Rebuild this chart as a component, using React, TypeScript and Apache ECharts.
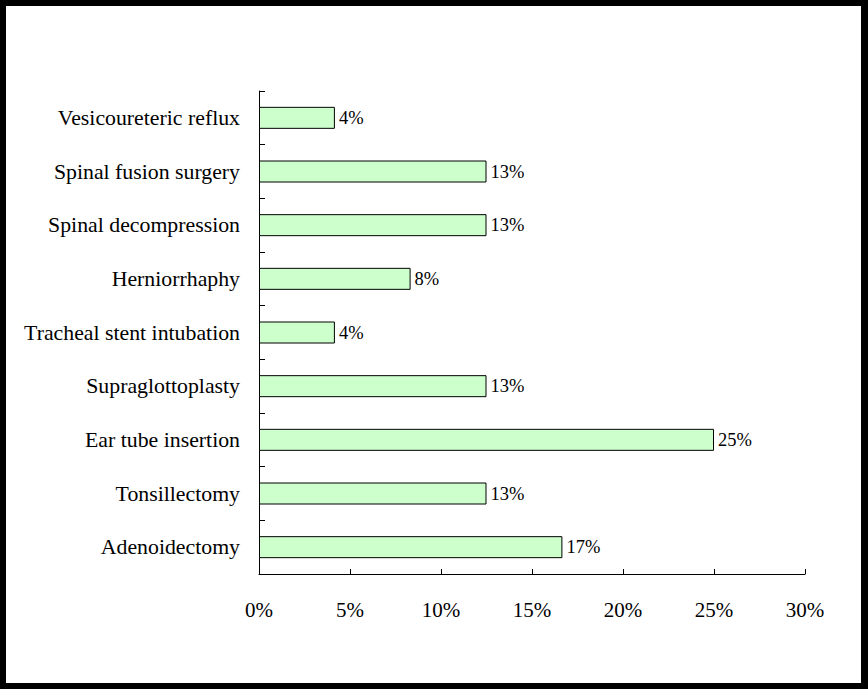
import React, { useEffect, useRef } from "react";
import * as echarts from "echarts";

const categories = [
  "Vesicoureteric reflux",
  "Spinal fusion surgery",
  "Spinal decompression",
  "Herniorrhaphy",
  "Tracheal stent intubation",
  "Supraglottoplasty",
  "Ear tube insertion",
  "Tonsillectomy",
  "Adenoidectomy",
];
const percentages = [4.17, 12.5, 12.5, 8.33, 4.17, 12.5, 25, 12.5, 16.67];
const xTicks = { min: 0, max: 30, interval: 5 };

export default function App() {
  const ref = useRef<HTMLDivElement>(null);
  useEffect(() => {
    if (!ref.current) return;
    const chart = echarts.init(ref.current, null, { renderer: "svg" });
    const font = "Liberation Serif";
    chart.setOption({
      animation: false,
      backgroundColor: "#ffffff",
      grid: { left: 259, right: 63, top: 91, bottom: 115, containLabel: false },
      xAxis: {
        type: "value",
        min: xTicks.min,
        max: xTicks.max,
        interval: xTicks.interval,
        axisLine: { show: true, lineStyle: { color: "#000", width: 1 } },
        axisTick: { show: true, inside: true, length: 5, lineStyle: { color: "#000" } },
        splitLine: { show: false },
        axisLabel: {
          formatter: "{value}%",
          color: "#000",
          fontFamily: font,
          fontSize: 21,
          margin: 25,
        },
      },
      yAxis: {
        type: "category",
        data: categories,
        inverse: true,
        axisLine: { show: true, lineStyle: { color: "#000", width: 1 } },
        axisTick: { show: true, inside: true, length: 6, alignWithLabel: false, lineStyle: { color: "#000" } },
        axisLabel: {
          color: "#000",
          fontFamily: font,
          fontSize: 21.8,
          margin: 19,
        },
      },
      series: [
        {
          type: "bar",
          data: percentages,
          barWidth: 22,
          itemStyle: { color: "#ccffcc", borderColor: "#000", borderWidth: 1 },
          label: {
            show: true,
            position: "right",
            distance: 4,
            color: "#000",
            fontFamily: font,
            fontSize: 18.5,
            formatter: (p: any) => Math.round(p.value) + "%",
          },
        },
      ],
      graphic: [
        { type: "rect", shape: { x: 0, y: 0, width: 868, height: 6 }, style: { fill: "#000" } },
        { type: "rect", shape: { x: 0, y: 0, width: 6, height: 689 }, style: { fill: "#000" } },
        { type: "rect", shape: { x: 861, y: 0, width: 7, height: 689 }, style: { fill: "#000" } },
        { type: "rect", shape: { x: 0, y: 683, width: 868, height: 6 }, style: { fill: "#000" } },
      ],
    });
    return () => chart.dispose();
  }, []);
  return (
    <div
      ref={ref}
      style={{ position: "fixed", left: 0, top: 0, width: 868, height: 689 }}
    />
  );
}
